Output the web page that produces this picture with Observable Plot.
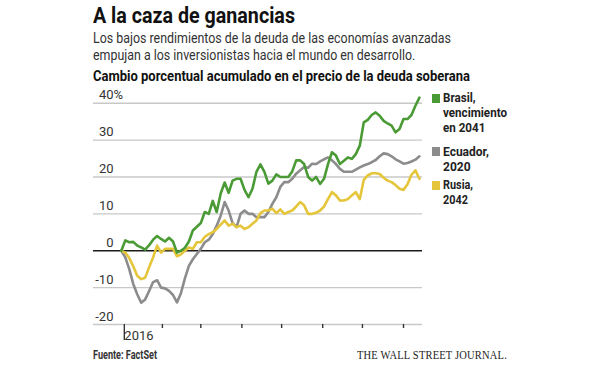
<!DOCTYPE html>
<html><head><meta charset="utf-8">
<script src="https://cdn.jsdelivr.net/npm/d3@7"></script>
<script src="https://cdn.jsdelivr.net/npm/@observablehq/plot@0.6"></script>
<style>
body{margin:0;background:#fff;}
#wrap{position:relative;width:600px;height:370px;overflow:hidden;font-family:Roboto,sans-serif;}
#wrap svg{position:absolute;left:0;top:0;}
.t{position:absolute;left:93px;white-space:nowrap;color:#1a1a1a;z-index:2;transform-origin:0 0;}
#title{top:5px;font-size:22px;line-height:22px;font-weight:700;color:#111;}
#sub{top:30px;font-size:15px;line-height:17px;color:#333;}
#head{top:68px;font-size:15px;line-height:17px;font-weight:700;color:#111;}
.lg{position:absolute;left:443px;font-size:13.5px;line-height:15px;font-weight:700;color:#222;z-index:2;white-space:nowrap;transform-origin:0 0;}
.sq{position:absolute;left:432px;width:8px;height:9px;z-index:2;}
#src{top:348px;font-size:12.5px;line-height:14px;color:#333;font-weight:700;}
#wsj{position:absolute;left:357px;top:348px;font-family:"Liberation Serif",serif;font-size:11.5px;line-height:14px;color:#222;letter-spacing:0.2px;z-index:2;white-space:nowrap;transform-origin:0 0;}
</style></head>
<body>
<div id="wrap">
  <div class="t" id="title" data-w="202">A la caza de ganancias</div>
  <div class="t" id="sub" data-w="358">Los bajos rendimientos de la deuda de las economías avanzadas<br>empujan a los inversionistas hacia el mundo en desarrollo.</div>
  <div class="t" id="head" data-w="377">Cambio porcentual acumulado en el precio de la deuda soberana</div>
  <div class="sq" style="top:94px;background:#4a9b36"></div>
  <div class="lg" style="top:90px" data-w="64">Brasil,<br>vencimiento<br>en 2041</div>
  <div class="sq" style="top:147px;background:#8c8c8c"></div>
  <div class="lg" style="top:144px" data-w="46">Ecuador,<br>2020</div>
  <div class="sq" style="top:181px;background:#e5c53a"></div>
  <div class="lg" style="top:177px" data-w="30">Rusia,<br>2042</div>
  <div class="t" id="src" data-w="64">Fuente: FactSet</div>
  <div id="wsj" data-w="150">THE WALL STREET JOURNAL.</div>
</div>
<script>
const dates = [
"2016-01-01","2016-01-04","2016-01-07","2016-01-10","2016-01-13","2016-01-16","2016-01-19","2016-01-22","2016-01-25","2016-01-28","2016-01-31",
"2016-02-03","2016-02-06","2016-02-09","2016-02-12","2016-02-15","2016-02-18","2016-02-21","2016-02-24","2016-02-27",
"2016-03-01","2016-03-04","2016-03-07","2016-03-10","2016-03-13","2016-03-16","2016-03-19","2016-03-22","2016-03-25","2016-03-28","2016-03-31",
"2016-04-03","2016-04-06","2016-04-09","2016-04-12","2016-04-15","2016-04-18","2016-04-21","2016-04-24","2016-04-27","2016-04-30",
"2016-05-03","2016-05-06","2016-05-09","2016-05-12","2016-05-15","2016-05-18","2016-05-21","2016-05-24","2016-05-27","2016-05-30",
"2016-06-02","2016-06-05","2016-06-08","2016-06-11","2016-06-14","2016-06-17","2016-06-20","2016-06-23","2016-06-26","2016-06-29",
"2016-07-02","2016-07-05","2016-07-08","2016-07-11","2016-07-14","2016-07-17","2016-07-20","2016-07-23","2016-07-26","2016-07-29",
"2016-08-01","2016-08-04","2016-08-07","2016-08-10","2016-08-13"];

const brasil = [0,2.8,2.3,2.4,1.4,0.9,0.3,1.5,3.0,4.0,3.2,
2.5,3.5,2.5,-0.5,0.0,0.8,2.5,5.5,6.5,
7.5,10.5,10.0,13.5,10.5,15.5,18.5,15.7,19.0,19.5,19.5,
16.5,14.5,16.8,21.4,23.4,21.4,18.2,19.0,20.7,20.0,
20.0,20.0,21.5,24.5,24.5,23.5,20.0,19.0,20.0,18.1,
19.5,23.5,26.7,25.8,23.5,24.4,25.3,24.9,26.2,28.5,
34.8,35.5,36.8,37.5,36.6,35.2,34.5,33.9,32.1,33.0,
35.7,35.7,36.8,39.3,41.5];

const ecuador = [0,-1.8,-5.0,-9.0,-11.8,-14.1,-13.2,-10.9,-8.5,-8.0,-10.0,
-10.2,-10.9,-12.0,-14.0,-11.5,-7.5,-4.1,-2.3,-0.9,
0.5,2.3,3.0,4.5,6.8,9.5,13.2,10.9,7.5,6.4,10.0,
10.9,10.0,10.0,9.1,9.1,9.1,10.5,12.7,14.5,17.3,
18.6,18.6,19.5,20.9,21.8,22.7,22.5,23.6,23.5,24.2,
24.8,25.3,24.5,23.5,22.2,21.4,21.4,21.4,22.0,22.6,
23.1,23.5,24.0,24.6,25.6,26.4,26.2,25.6,24.8,24.2,
23.6,23.8,24.2,24.7,25.6];

const rusia = [0,-0.5,-2.0,-4.2,-6.8,-7.7,-7.3,-4.5,-1.8,1.4,-0.5,
0.5,0.5,0.5,-1.5,-1.0,0.0,0.9,0.5,2.3,
2.3,3.8,4.5,5.0,5.9,7.1,8.2,6.8,7.3,6.4,6.8,
5.9,6.4,7.3,8.2,10.2,10.9,10.9,11.4,10.2,11.2,
10.0,10.5,10.9,12.0,13.2,12.3,10.0,10.0,10.3,10.9,
12.0,14.0,15.9,15.0,13.6,13.6,14.0,15.0,15.9,14.0,
19.2,20.4,21.0,21.0,20.8,19.8,19.0,18.6,17.8,16.8,
16.5,18.0,20.6,21.8,19.5];

const seriesNames = ["Ecuador", "Rusia", "Brasil"];
const seriesColors = ["#8c8c8c", "#e5c53a", "#4a9b36"];
const yTicks = [-20, -10, 0, 10, 20, 30, 40];
const monthTicks = ["2016-02-01","2016-03-01","2016-04-01","2016-05-01","2016-06-01","2016-07-01","2016-08-01"];
const yearTick = ["2016-01-01"];

const parse = s => new Date(s + "T00:00:00Z");
const rows = [];
const valuesBy = {Ecuador: ecuador, Rusia: rusia, Brasil: brasil};
for (const name of seriesNames) {
  valuesBy[name].forEach((v, i) => rows.push({series: name, date: parse(dates[i]), value: v}));
}

const chart = Plot.plot({
  width: 600,
  height: 370,
  marginLeft: 93,
  marginRight: 178,
  marginTop: 102.7,
  marginBottom: 46,
  style: {fontFamily: "Roboto, sans-serif", fontSize: "12.5px", color: "#333", background: "transparent"},
  x: {type: "utc", domain: [new Date("2015-12-11T00:00:00Z"), new Date("2016-08-15T08:00:00Z")]},
  y: {domain: [-20, 40]},
  color: {domain: seriesNames, range: seriesColors},
  marks: [
    Plot.ruleY(yTicks.filter(d => d !== 0), {stroke: "#c8c8c8", strokeWidth: 1.4}),
    Plot.ruleY([0], {stroke: "#1a1a1a", strokeWidth: 1.6}),
    Plot.axisX({ticks: monthTicks.map(parse), tickSize: 4, tickFormat: () => "", stroke: "#333", strokeWidth: 1.4, label: null}),
    Plot.axisX({ticks: yearTick.map(parse), tickSize: 16, tickPadding: -10, tickFormat: () => "2016", textAnchor: "start", dx: 3, stroke: "#333", strokeWidth: 1.4, fill: "#333", fontSize: 13, label: null}),
    Plot.axisY({ticks: yTicks, tickSize: 0, tickPadding: 0, dx: 20, dy: -8, textAnchor: "end", tickFormat: d => String(d), fill: "#333", fontSize: 13, label: null}),
    Plot.text([40], {y: d => d, text: () => "%", frameAnchor: "left", dx: 20, dy: -8, textAnchor: "start", fill: "#333", fontSize: 13}),
    Plot.line(rows, {x: "date", y: "value", z: "series", stroke: "series", strokeWidth: 2.6, strokeLinejoin: "round", strokeLinecap: "round"})
  ]
});
document.getElementById("wrap").prepend(chart);

function fit() {
  document.querySelectorAll("[data-w]").forEach(el => {
    el.style.transform = "none";
    const w = el.getBoundingClientRect().width;
    const target = +el.dataset.w;
    if (w > 0) el.style.transform = "scaleX(" + (target / w) + ")";
  });
}
fit();
if (document.fonts && document.fonts.ready) document.fonts.ready.then(fit);
</script>
</body></html>
